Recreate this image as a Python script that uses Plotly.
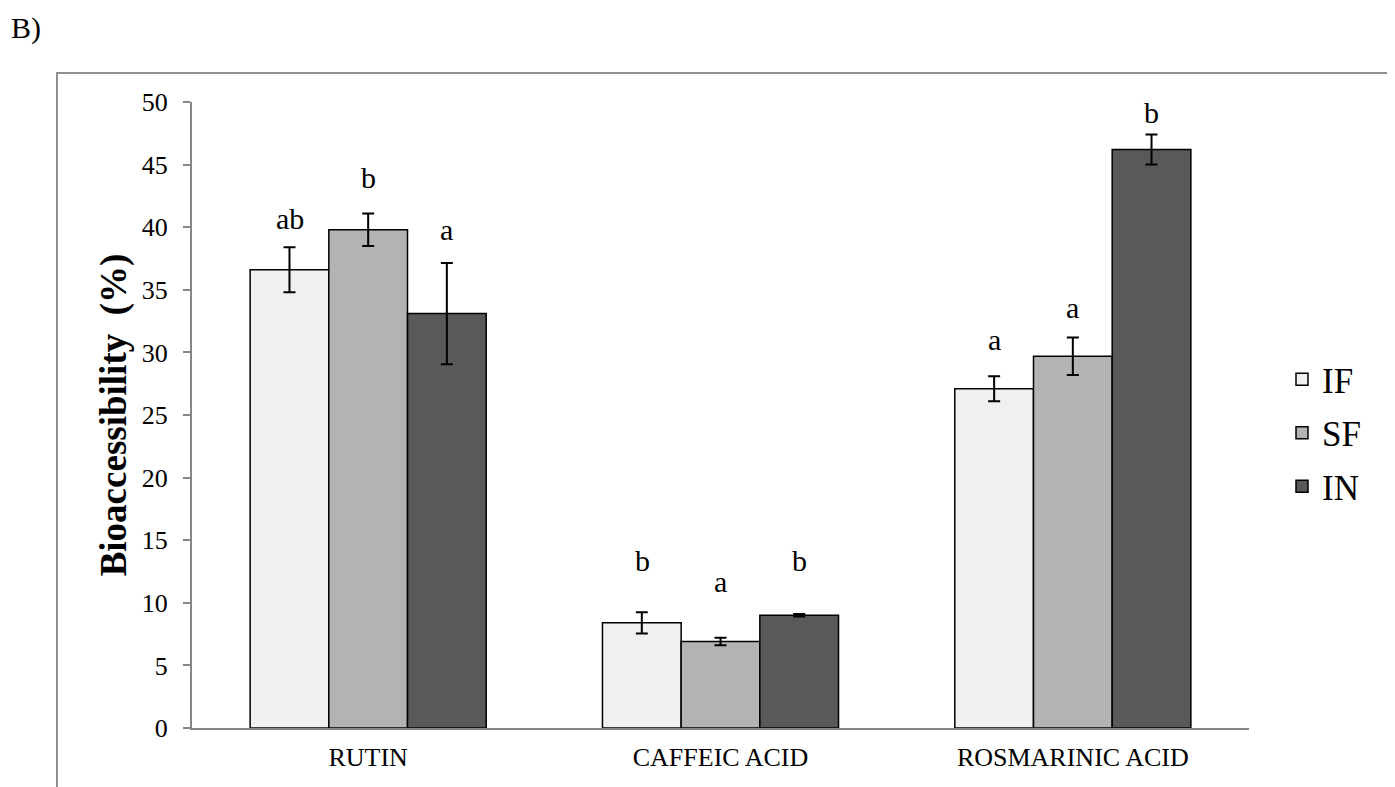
import plotly.graph_objects as go

categories = ["RUTIN", "CAFFEIC ACID", "ROSMARINIC ACID"]
series_names = ["IF", "SF", "IN"]
if_values = [36.6, 8.4, 27.1]
sf_values = [39.8, 6.9, 29.7]
in_values = [33.1, 9.0, 46.2]
if_errors = [1.8, 0.85, 1.0]
sf_errors = [1.3, 0.3, 1.5]
in_errors = [4.05, 0.1, 1.2]
if_letters = ["ab", "b", "a"]
sf_letters = ["b", "a", "a"]
in_letters = ["a", "b", "b"]
# letter baseline positions (data units)
if_letter_y = [39.9, 12.6, 30.2]
sf_letter_y = [43.2, 10.9, 32.8]
in_letter_y = [39.0, 12.6, 48.4]
y_ticks = [0, 5, 10, 15, 20, 25, 30, 35, 40, 45, 50]

colors = ["#f0f0f0", "#b3b3b3", "#595959"]
FONT = "Liberation Serif, Times New Roman, serif"

# figure-relative pixel geometry (page has an 8px body margin)
W, H = 1387, 779
L, R, T, B = 184, 146, 94, 59
PW = W - L - R
PH = H - T - B


def px_x(x):
    return (x - L) / PW


def px_y(y):
    return (H - B - y) / PH


fig = go.Figure()
for name, vals, errs, col in zip(series_names, [if_values, sf_values, in_values],
                                 [if_errors, sf_errors, in_errors], colors):
    fig.add_trace(go.Bar(
        name=name, x=categories, y=vals, legendgroup=name,
        marker=dict(color=col, line=dict(color="black", width=1.5)),
        error_y=dict(type="data", array=errs, visible=True, color="black",
                     thickness=2, width=6),
        hoverinfo="skip",
    ))

offsets = [-1, 0, 1]
annotations = []
for off, letters, ly in zip(offsets, [if_letters, sf_letters, in_letters],
                            [if_letter_y, sf_letter_y, in_letter_y]):
    for i, (t, yv) in enumerate(zip(letters, ly)):
        annotations.append(dict(
            x=i, xref="x", y=yv, yref="y", text=t, showarrow=False,
            xanchor="center", yanchor="middle", yshift=10,
            xshift=off * 78.5,
            font=dict(family=FONT, size=30, color="black"),
        ))

annotations.append(dict(
    xref="paper", yref="paper", x=px_x(1), y=px_y(1), text="B)",
    showarrow=False, xanchor="left", yanchor="top",
    font=dict(family=FONT, size=30, color="black"),
))

fig.update_layout(
    width=W, height=H,
    margin=dict(l=L, r=R, t=T, b=B),
    paper_bgcolor="white", plot_bgcolor="white",
    barmode="group", bargap=0.33, bargroupgap=0,
    font=dict(family=FONT, color="black"),
    showlegend=True,
    legend=dict(x=px_x(1274), y=px_y(425), xanchor="left", yanchor="middle",
                font=dict(family=FONT, size=35, color="black"),
                tracegroupgap=5, bgcolor="rgba(0,0,0,0)"),
    xaxis=dict(showline=True, linecolor="#868686", linewidth=2,
               ticks="", showgrid=False, zeroline=False,
               ticklabelstandoff=5,
               tickfont=dict(family=FONT, size=26, color="black")),
    yaxis=dict(range=[0, 50], tickvals=y_ticks, showline=True,
               linecolor="#868686", linewidth=2, ticks="outside",
               ticklen=7, tickcolor="#868686", tickwidth=2,
               showgrid=False, zeroline=False, ticklabelstandoff=10,
               tickfont=dict(family=FONT, size=26, color="black"),
               title=dict(text="<b>Bioaccessibility  (%)</b>",
                          font=dict(family=FONT, size=37, color="black"),
                          standoff=4)),
    annotations=annotations,
    shapes=[dict(type="rect", xref="paper", yref="paper",
                 x0=px_x(49), x1=px_x(1380),
                 y0=px_y(820), y1=px_y(65),
                 line=dict(color="#909090", width=2), layer="below")],
)

fig.write_html("out.html")
